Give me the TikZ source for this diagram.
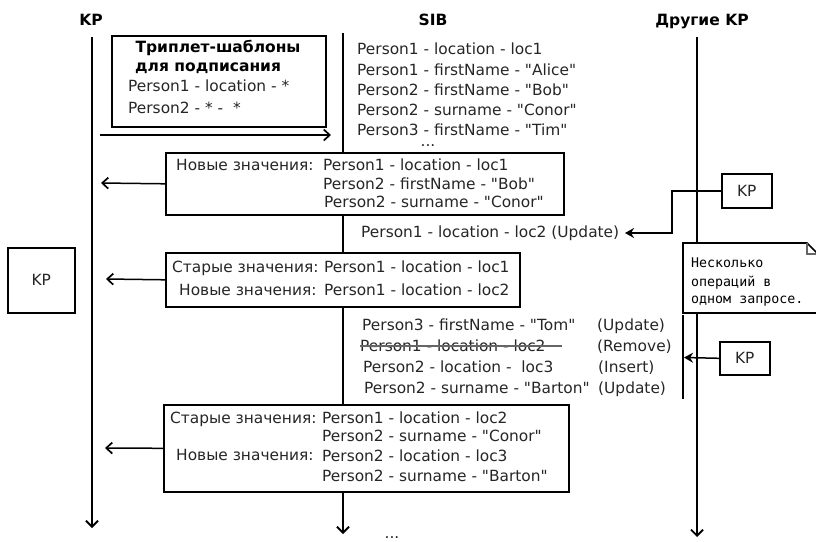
\documentclass[tikz,border=0pt]{standalone}
\usepackage{fontspec}
\setmainfont{DejaVu Sans}
\setmonofont{DejaVu Sans Mono}
\usetikzlibrary{arrows.meta}
\newcommand\lblfont{\fontsize{15.4}{18}\selectfont}
\newcommand\ttlfont{\fontsize{15.5}{18}\selectfont\bfseries}
\newcommand\notefont{\fontsize{13.3}{16}\selectfont\ttfamily}
\newcommand\dq{\textquotedbl}
\begin{document}
\begin{tikzpicture}[x=1pt,y=-1pt,
  lbl/.style={font=\lblfont, text=black!85, inner sep=0pt, anchor=west, text height=11pt, text depth=0pt},
  dots/.style={font=\lblfont, text=black!85, inner sep=0pt, anchor=center, text height=2pt, text depth=0pt},
  ttl/.style={font=\ttlfont, inner sep=0pt, text height=11pt, text depth=0pt},
  notetxt/.style={font=\notefont, inner sep=0pt, anchor=west, text height=9pt, text depth=0pt},
  box/.style={draw, line width=1.6pt, fill=white, anchor=north west, inner sep=0pt},
  lifeline/.style={line width=1.6pt, -{Straight Barb[length=6pt,width=12pt,line width=1.8pt]}},
  msg/.style={line width=1.5pt, -{Straight Barb[length=6pt,width=11pt,line width=1.7pt]}},
  upd/.style={line width=1.5pt, -{Stealth[length=9pt,width=10pt]}}]
\useasboundingbox (0,0) rectangle (816,541);

% participant titles
\node[ttl] (tKP) at (91,20) {KP};
\node[ttl] (tSIB) at (433,20) {SIB};
\node[ttl] (tOth) at (702,20) {Другие KP};

% lifelines
\coordinate (kpA) at (92,37);   \coordinate (kpB) at (92,528);
\coordinate (sibA) at (343,33); \coordinate (sibB) at (343,534);
\coordinate (othA) at (697,37); \coordinate (othB) at (697,537);
\draw[lifeline] (kpA) -- (kpB);
\draw[lifeline] (sibA) -- (sibB);
\draw[lifeline] (othA) -- (othB);

% subscription templates
\node[box, minimum width=214pt, minimum height=91pt] (tpl) at (111,35) {};
\node[ttl] (tplT1) at (218,47) {Триплет-шаблоны};
\node[ttl, anchor=west] (tplT2) at (135,66) {для подписания};
\node[lbl] (tplL1) at (128,86) {Person1 - location - *};
\node[lbl] (tplL2) at (128,108) {Person2 - * -\ \ *};
\coordinate (subS) at (100,135);
\coordinate (subE) at (331,135);
\draw[msg] (subS) -- (subE);

% SIB contents
\node[lbl] (d1) at (357,49)  {Person1 - location - loc1};
\node[lbl] (d2) at (357,70)  {Person1 - firstName - \dq Alice\dq};
\node[lbl] (d3) at (357,90)  {Person2 - firstName - \dq Bob\dq};
\node[lbl] (d4) at (357,110) {Person2 - surname - \dq Conor\dq};
\node[lbl] (d5) at (357,130) {Person3 - firstName - \dq Tim\dq};
\node[dots] (d6) at (428,145) {...};

% first notification
\node[box, minimum width=398pt, minimum height=62pt] (nv1) at (165,152) {};
\node[lbl] (nv1h) at (176,165) {Новые значения:};
\node[lbl] (nv1a) at (323,165) {Person1 - location - loc1};
\node[lbl] (nv1b) at (323,184) {Person2 - firstName - \dq Bob\dq};
\node[lbl] (nv1c) at (324,202) {Person2 - surname - \dq Conor\dq};
\coordinate (nv1t) at (101,183);
\draw[msg] (nv1.west) -- (nv1t);

% update from another KP
\node[box, minimum width=50pt, minimum height=34pt] (kpu) at (721,173) {};
\node[lbl, anchor=center] (kpuT) at (kpu.center) {KP};
\node[lbl] (updT) at (361,232) {Person1 - location - loc2 (Update)};
\coordinate (ubend) at (672,233);
\coordinate (utip) at (625,233);
\draw[upd] (kpu.west) -| (ubend) -- (utip);

% second notification
\node[box, minimum width=354pt, minimum height=54pt] (nv2) at (165,252) {};
\node[lbl] (nv2h1) at (172,267) {Старые значения:};
\node[lbl] (nv2a) at (324,267) {Person1 - location - loc1};
\node[lbl] (nv2h2) at (179,290) {Новые значения:};
\node[lbl] (nv2b) at (324,290) {Person1 - location - loc2};
\coordinate (nv2t) at (106,279);
\draw[msg] (nv2.west) -- (nv2t);

% standalone KP
\node[box, minimum width=67pt, minimum height=65pt] (kpl) at (7,247) {};
\node[lbl, anchor=center] (kplT) at (kpl.center) {KP};

% note
\path[draw, fill=white, line width=1.6pt] (683,243) -- (807,243) -- (819,255) -- (819,313) -- (683,313) -- cycle;
\draw[line width=1.2pt, black!60] (807,243) -- (807,254) -- (819,254);
\node[notetxt] (n1) at (691,263) {Несколько};
\node[notetxt] (n2) at (691,282) {операций в};
\node[notetxt] (n3) at (691,299) {одном запросе.};

% batch request
\coordinate (barA) at (683,315); \coordinate (barB) at (683,399);
\draw[line width=1.6pt] (barA) -- (barB);
\node[box, minimum width=50pt, minimum height=33pt] (kpm) at (719,341) {};
\node[lbl, anchor=center] (kpmT) at (kpm.center) {KP};
\coordinate (mtip) at (684,357.5);
\draw[upd] (kpm.west) -- (mtip);

\node[lbl] (o1) at (362,325) {Person3 - firstName - \dq Tom\dq};
\node[lbl] (o1k) at (597,325) {(Update)};
\node[lbl] (o2) at (360,346) {Person1 - location - loc2};
\node[lbl] (o2k) at (597,346) {(Remove)};
\node[lbl] (o3) at (363,367) {Person2 - location -\ \ loc3};
\node[lbl] (o3k) at (598,367) {(Insert)};
\node[lbl] (o4) at (364,388) {Person2 - surname - \dq Barton\dq};
\node[lbl] (o4k) at (598,388) {(Update)};
\draw[line width=1.2pt, black!60] (o2.west) -- (562,346);

% third notification
\node[box, minimum width=405pt, minimum height=87pt] (nv3) at (163,404) {};
\node[lbl] (nv3h1) at (170,418) {Старые значения:};
\node[lbl] (nv3a) at (322,418) {Person1 - location - loc2};
\node[lbl] (nv3b) at (322,436) {Person2 - surname - \dq Conor\dq};
\node[lbl] (nv3h2) at (176,455) {Новые значения:};
\node[lbl] (nv3c) at (322,456) {Person2 - location - loc3};
\node[lbl] (nv3d) at (322,476) {Person2 - surname - \dq Barton\dq};
\coordinate (nv3t) at (105,448);
\draw[msg] (nv3.west) -- (nv3t);

\node[dots] (endDots) at (392,537) {...};
\end{tikzpicture}
\end{document}
